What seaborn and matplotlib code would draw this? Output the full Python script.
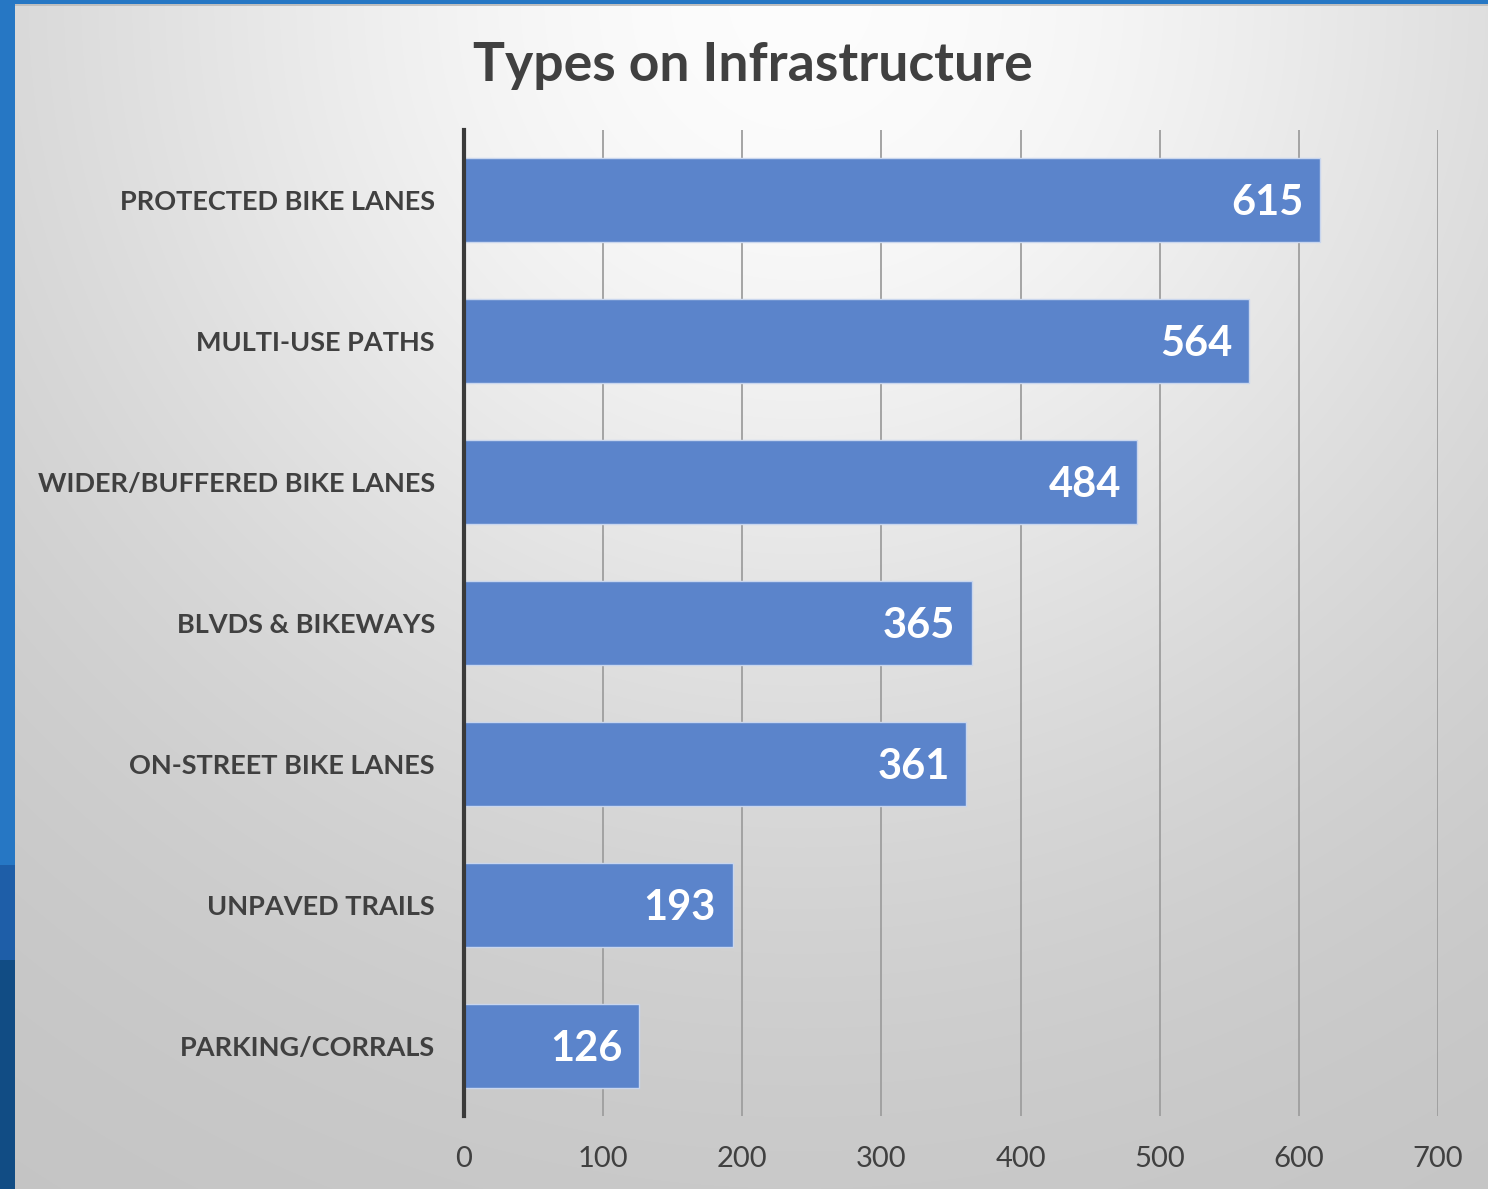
import matplotlib
matplotlib.use("Agg")
import matplotlib.pyplot as plt
import seaborn as sns
import numpy as np
import pandas as pd

categories = ['PROTECTED BIKE LANES', 'MULTI-USE PATHS', 'WIDER/BUFFERED BIKE LANES',
              'BLVDS & BIKEWAYS', 'ON-STREET BIKE LANES', 'UNPAVED TRAILS', 'PARKING/CORRALS']
values = [615, 564, 484, 365, 361, 193, 126]
xticks = [0, 100, 200, 300, 400, 500, 600, 700]

df = pd.DataFrame({'Type': categories, 'Count': values})

sns.set_theme(style='white')
plt.rcParams['font.family'] = ['Lato', 'DejaVu Sans']

fig = plt.figure(figsize=(14.88, 11.89), dpi=100)

# radial gray gradient background, lightest at top centre
bg = fig.add_axes([0, 0, 1, 1], zorder=-2)
H, W = 1189, 1488
yy, xx = np.mgrid[0:H, 0:W]
d = np.sqrt((xx - 800) ** 2 + yy ** 2) / H
g = 0.76 + 0.23 * np.exp(-(d / 0.69) ** 2)
img = np.dstack([g, g, g])
# blue frame on left and top
img[:, :15] = [0.15, 0.47, 0.77]
img[865:960, :15] = [0.12, 0.37, 0.66]
img[960:, :15] = [0.07, 0.30, 0.52]
img[:4, :] = [0.15, 0.47, 0.77]
img[4:6, 15:] = [0.75, 0.75, 0.75]
bg.imshow(img, aspect='auto', extent=[0, 1, 0, 1])
bg.axis('off')

ax = fig.add_axes([0.3118, 0.061, 0.6546, 0.830])
ax.set_facecolor('none')
sns.barplot(data=df, x='Count', y='Type', orient='h', color='#5b84cb', saturation=1,
            width=0.6, edgecolor='#c9d6ee', linewidth=1, ax=ax, zorder=3)

ax.set_xlim(0, 700)
ax.set_xticks(xticks)
ax.grid(axis='x', color='#9e9e9e', linewidth=1.3, zorder=0)
ax.grid(axis='y', visible=False)
for s in ['top', 'right', 'bottom']:
    ax.spines[s].set_visible(False)
ax.spines['left'].set_color('#3a3a3a')
ax.spines['left'].set_linewidth(3)
ax.spines['left'].set_zorder(5)
ax.set_xlabel('')
ax.set_ylabel('')
ax.tick_params(axis='x', length=0, pad=21, labelsize=21, labelcolor='#404040')
ax.tick_params(axis='y', length=0, pad=21, labelsize=19.5, labelcolor='#404040')
for t in ax.get_yticklabels():
    t.set_fontweight('bold')

for i, v in enumerate(values):
    ax.text(v - 12, i + 0.02, str(v), ha='right', va='center', color='white',
            fontsize=30, fontweight='bold', zorder=6)

fig.text(0.506, 0.945, 'Types on Infrastructure', ha='center', va='center',
         fontsize=38.5, fontweight='bold', color='#404040')

fig.savefig('out.png', dpi=100)
